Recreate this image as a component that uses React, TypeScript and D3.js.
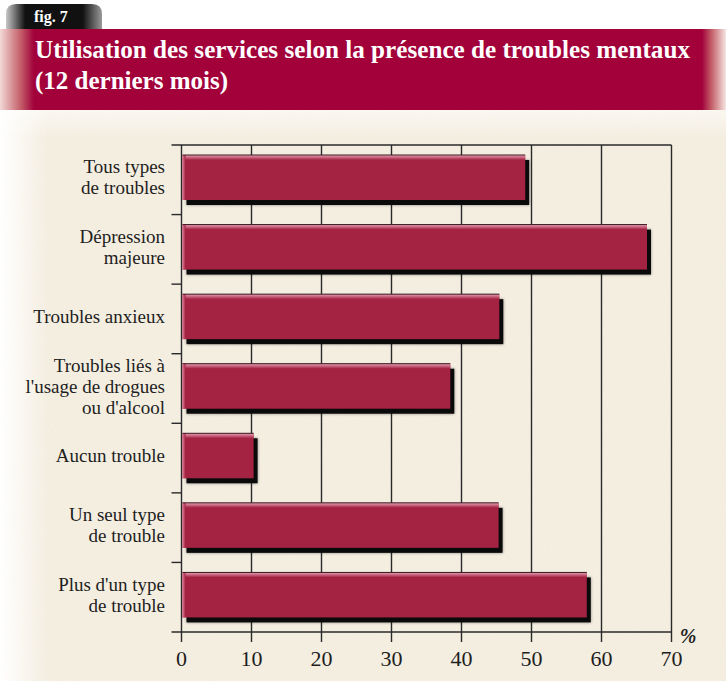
import React from "react";
import * as d3 from "d3";

const categories: string[] = [
  "Tous types\nde troubles",
  "Dépression\nmajeure",
  "Troubles anxieux",
  "Troubles liés à\nl'usage de drogues\nou d'alcool",
  "Aucun trouble",
  "Un seul type\nde trouble",
  "Plus d'un type\nde trouble",
];
const values: number[] = [49.1, 66.5, 45.4, 38.4, 10.3, 45.3, 57.9];
const xTicks: number[] = [0, 10, 20, 30, 40, 50, 60, 70];
const figLabel = "fig. 7";
const titleLines: string[] = [
  "Utilisation des services selon la présence de troubles mentaux",
  "(12 derniers mois)",
];
const unitLabel = "%";

const W = 726;
const H = 681;
const plot = { left: 181.5, right: 671.5, top: 145, bottom: 632 };
const BAR = "#a42242";
const CRIMSON = "#a2013a";
const SERIF = "'Liberation Serif', 'DejaVu Serif', serif";

export default function App() {
  const x = d3.scaleLinear().domain([0, 70]).range([plot.left, plot.right]);
  const y = d3
    .scaleBand<string>()
    .domain(categories)
    .range([plot.top, plot.bottom])
    .paddingInner(0)
    .paddingOuter(0);
  const bw = y.bandwidth();
  const barH = 45;
  const barOff = 10;

  return (
    <svg
      width={W}
      height={H}
      style={{ position: "absolute", left: 0, top: 0, display: "block" }}
      xmlns="http://www.w3.org/2000/svg"
    >
      <defs>
        <filter id="paper" x="0" y="0" width="100%" height="100%">
          <feTurbulence type="fractalNoise" baseFrequency="0.9" numOctaves="2" seed="3" result="n" />
          <feColorMatrix
            in="n"
            type="matrix"
            values="0 0 0 0 0.55  0 0 0 0 0.5  0 0 0 0 0.4  0 0 0 0.12 0"
          />
        </filter>
        <linearGradient id="leftFade" x1="0" x2="1" y1="0" y2="0">
          <stop offset="0" stopColor="#ffffff" stopOpacity="1" />
          <stop offset="1" stopColor="#ffffff" stopOpacity="0" />
        </linearGradient>
        <linearGradient id="topFade" x1="0" x2="0" y1="0" y2="1">
          <stop offset="0" stopColor="#ffffff" stopOpacity="0.6" />
          <stop offset="1" stopColor="#ffffff" stopOpacity="0" />
        </linearGradient>
        <linearGradient id="bandLeft" x1="0" x2="1" y1="0" y2="0">
          <stop offset="0" stopColor="#f3d9d6" />
          <stop offset="0.6" stopColor="#c4606a" />
          <stop offset="1" stopColor={CRIMSON} />
        </linearGradient>
        <linearGradient id="bandRight" x1="0" x2="1" y1="0" y2="0">
          <stop offset="0" stopColor={CRIMSON} />
          <stop offset="0.4" stopColor="#c4606a" />
          <stop offset="1" stopColor="#f6e6e2" />
        </linearGradient>
        <linearGradient id="tabGrad" x1="0" x2="1" y1="0" y2="0">
          <stop offset="0" stopColor="#c8c8c8" />
          <stop offset="0.2" stopColor="#111" />
          <stop offset="0.8" stopColor="#111" />
          <stop offset="1" stopColor="#9a9a9a" />
        </linearGradient>
        <linearGradient id="barTop" x1="0" x2="0" y1="0" y2="1">
          <stop offset="0" stopColor="#e8a2b6" />
          <stop offset="1" stopColor={BAR} />
        </linearGradient>
        <linearGradient id="barLeft" x1="0" x2="1" y1="0" y2="0">
          <stop offset="0" stopColor="#dc7c98" />
          <stop offset="1" stopColor={BAR} />
        </linearGradient>
        <filter id="shadowBlur" x="-10%" y="-30%" width="120%" height="160%">
          <feGaussianBlur stdDeviation="1.6" />
        </filter>
      </defs>

      {/* paper background */}
      <rect x={0} y={0} width={W} height={H} fill="#ffffff" />
      <rect x={0} y={108} width={W} height={H - 108} fill="#f7f1e4" />
      <rect x={0} y={108} width={W} height={H - 108} filter="url(#paper)" />
      <rect x={0} y={108} width={48} height={H - 108} fill="url(#leftFade)" />
      <rect x={0} y={108} width={W} height={30} fill="url(#topFade)" />

      {/* tab */}
      <path
        d="M6,30 L6,14 Q6,4 16,4 L92,4 Q102,4 102,14 L102,30 Z"
        fill="url(#tabGrad)"
      />
      <text
        x={34}
        y={22}
        fill="#ffffff"
        fontFamily={SERIF}
        fontWeight="bold"
        fontSize={16}
      >
        {figLabel}
      </text>

      {/* title band */}
      <rect x={0} y={29} width={34} height={81} fill="url(#bandLeft)" />
      <rect x={34} y={29} width={668} height={81} fill={CRIMSON} />
      <rect x={702} y={29} width={24} height={81} fill="url(#bandRight)" />
      <text
        x={35}
        y={58}
        fill="#ffffff"
        fontFamily={SERIF}
        fontWeight="bold"
        fontSize={25}
        textLength={655}
        lengthAdjust="spacingAndGlyphs"
      >
        {titleLines[0]}
      </text>
      <text
        x={35}
        y={89}
        fill="#ffffff"
        fontFamily={SERIF}
        fontWeight="bold"
        fontSize={25}
        textLength={193}
        lengthAdjust="spacingAndGlyphs"
      >
        {titleLines[1]}
      </text>

      {/* grid lines */}
      {xTicks.map((t) => (
        <line
          key={"g" + t}
          x1={x(t)}
          x2={x(t)}
          y1={plot.top}
          y2={plot.bottom + 10}
          stroke="#2a2a2a"
          strokeWidth={1.4}
        />
      ))}
      {/* top border */}
      <line x1={plot.left - 10} x2={plot.right} y1={plot.top} y2={plot.top} stroke="#2a2a2a" strokeWidth={1.4} />
      {/* x axis */}
      <line x1={plot.left - 10} x2={plot.right} y1={plot.bottom} y2={plot.bottom} stroke="#2a2a2a" strokeWidth={1.4} />
      {/* left ticks at band boundaries */}
      {categories.slice(1).map((c) => (
        <line
          key={"lt" + c}
          x1={plot.left - 10}
          x2={plot.left}
          y1={y(c)!}
          y2={y(c)!}
          stroke="#2a2a2a"
          strokeWidth={1.4}
        />
      ))}

      {/* bars */}
      {categories.map((c, i) => {
        const by = y(c)! + barOff;
        const bx = x(0) + 1;
        const w = x(values[i]) - bx;
        return (
          <g key={"b" + c}>
            <rect x={bx + 4} y={by + 5} width={w} height={barH} fill="#000" opacity={0.45} filter="url(#shadowBlur)" />
            <rect x={bx + 4} y={by + 5} width={w} height={barH} fill="#0a0a0a" />
            <rect x={bx} y={by} width={w} height={barH} fill={BAR} />
            <rect x={bx} y={by} width={w} height={5} fill="url(#barTop)" />
            <rect x={bx} y={by} width={3} height={barH} fill="url(#barLeft)" />
            <line x1={bx} x2={bx + w} y1={by} y2={by} stroke="#3a1a22" strokeWidth={1} />
          </g>
        );
      })}

      {/* category labels */}
      {categories.map((c) => {
        const lines = c.split("\n");
        const cy = y(c)! + bw / 2;
        const lh = 21;
        return (
          <text
            key={"l" + c}
            textAnchor="end"
            fontFamily={SERIF}
            fontSize={19}
            fill="#1e1e1e"
          >
            {lines.map((ln, k) => (
              <tspan key={k} x={165} y={cy + 4 + (k - (lines.length - 1) / 2) * lh}>
                {ln}
              </tspan>
            ))}
          </text>
        );
      })}

      {/* x tick labels */}
      {xTicks.map((t) => (
        <text
          key={"t" + t}
          x={x(t)}
          y={666}
          textAnchor="middle"
          fontFamily={SERIF}
          fontSize={22}
          fill="#1e1e1e"
        >
          {t}
        </text>
      ))}
      <text
        x={688}
        y={643}
        textAnchor="middle"
        fontFamily={SERIF}
        fontStyle="italic"
        fontWeight="bold"
        fontSize={20}
        fill="#1e1e1e"
      >
        {unitLabel}
      </text>
    </svg>
  );
}
